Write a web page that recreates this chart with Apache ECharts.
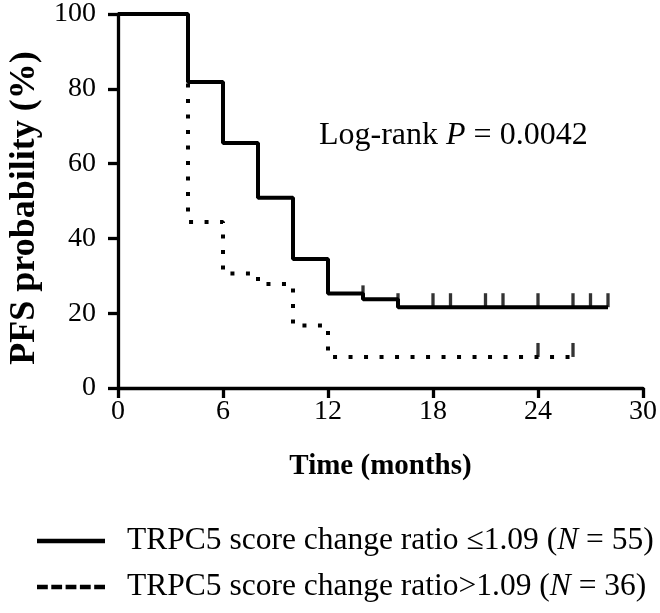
<!DOCTYPE html>
<html>
<head>
<meta charset="utf-8">
<script src="https://cdn.jsdelivr.net/npm/echarts@6/dist/echarts.min.js"></script>
<style>
html,body{margin:0;padding:0;background:#fff;}
#chart{width:660px;height:613px;}
</style>
</head>
<body>
<div id="chart"></div>
<script>
// ---- data ----
const xTicks = [0, 6, 12, 18, 24, 30];
const yTicks = [0, 20, 40, 60, 80, 100];
const lowTimes = [0, 4, 6, 8, 10, 12, 14, 16, 28];
const lowSurv = [100, 81.8, 65.5, 50.9, 34.5, 25.3, 23.7, 21.6, 21.6];
const lowCensorTimes = [14, 16, 18, 19, 21, 22, 24, 26, 27, 28];
const lowCensorSurv = [23.7, 21.6, 21.6, 21.6, 21.6, 21.6, 21.6, 21.6, 21.6, 21.6];
const highTimes = [0, 4, 6, 8, 10, 12, 26];
const highSurv = [100, 44.4, 30.6, 27.8, 16.7, 8.3, 8.3];
const highCensorTimes = [24, 26];
const highCensorSurv = [8.3, 8.3];
const seriesNames = ['TRPC5 score change ratio \u22641.09', 'TRPC5 score change ratio\u003e1.09'];
const seriesN = [55, 36];
const statText = ['Log-rank ', 'P', ' = 0.0042'];
const xTitle = 'Time (months)';
const yTitle = 'PFS probability (%)';

const FONT = '"Liberation Serif", "Times New Roman", serif';
const zip = (a, b) => a.map((v, i) => [v, b[i]]);

const chart = echarts.init(document.getElementById('chart'), null, {renderer: 'canvas'});

function legendText(i) {
  return '{a|' + seriesNames[i] + ' (}{i|N}{a| = ' + seriesN[i] + ')}';
}
const legendRich = {
  a: {fontFamily: FONT, fontSize: 31.5, fill: '#000'},
  i: {fontFamily: FONT, fontSize: 31.5, fill: '#000', fontStyle: 'italic'}
};

const option = {
  animation: false,
  backgroundColor: '#fff',
  grid: {left: 118, right: 14, top: 11, bottom: 225, containLabel: false},
  xAxis: {
    type: 'value', min: xTicks[0], max: xTicks[xTicks.length - 1], interval: 6,
    name: xTitle, nameLocation: 'middle', nameGap: 64,
    nameTextStyle: {fontFamily: FONT, fontWeight: 'bold', fontSize: 29, color: '#000'},
    axisLine: {lineStyle: {color: '#000', width: 3.3}},
    axisTick: {show: true, inside: false, length: 10, lineStyle: {color: '#000', width: 3.3}},
    axisLabel: {fontFamily: FONT, fontSize: 28, color: '#000', margin: 10},
    splitLine: {show: false}
  },
  yAxis: {
    type: 'value', min: yTicks[0], max: yTicks[yTicks.length - 1], interval: 20,
    axisLine: {lineStyle: {color: '#000', width: 3.3}},
    axisTick: {show: true, inside: false, length: 10, lineStyle: {color: '#000', width: 3.3}},
    axisLabel: {fontFamily: FONT, fontSize: 28, color: '#000', margin: 22},
    splitLine: {show: false}
  },
  graphic: [
    {
      type: 'text', x: 25, y: 208, rotation: Math.PI / 2,
      style: {text: yTitle, fontFamily: FONT, fontWeight: 'bold', fontSize: 36, fill: '#000', align: 'center', verticalAlign: 'middle'}
    },
    {
      type: 'text', x: 319, y: 136,
      style: {
        text: '{a|' + statText[0] + '}{i|' + statText[1] + '}{a|' + statText[2] + '}',
        verticalAlign: 'middle',
        rich: {
          a: {fontFamily: FONT, fontSize: 32, fill: '#000'},
          i: {fontFamily: FONT, fontSize: 32, fill: '#000', fontStyle: 'italic'}
        }
      }
    },
    {type: 'line', shape: {x1: 37, y1: 541, x2: 105, y2: 541}, style: {stroke: '#000', lineWidth: 4.5}},
    {type: 'line', shape: {x1: 37, y1: 587, x2: 105, y2: 587}, style: {stroke: '#000', lineWidth: 4.5, lineDash: [10.8, 3.5]}},
    {type: 'text', x: 127, y: 541, style: {text: legendText(0), rich: legendRich, verticalAlign: 'middle'}},
    {type: 'text', x: 127, y: 587, style: {text: legendText(1), rich: legendRich, verticalAlign: 'middle'}}
  ],
  series: [
    {
      name: seriesNames[0], type: 'line', step: 'end', symbol: 'none',
      data: zip(lowTimes, lowSurv),
      lineStyle: {color: '#000', width: 4, type: 'solid'}
    },
    {
      name: seriesNames[1], type: 'line', step: 'end', symbol: 'none',
      data: zip(highTimes, highSurv),
      lineStyle: {color: '#000', width: 4, type: [4, 11.5], cap: 'butt'}
    },
    {
      type: 'scatter', symbol: 'rect', symbolSize: [3.3, 14], symbolOffset: [0, -7],
      data: zip(lowCensorTimes, lowCensorSurv), itemStyle: {color: '#000'}, silent: true
    },
    {
      type: 'scatter', symbol: 'rect', symbolSize: [3.3, 14], symbolOffset: [0, -7],
      data: zip(highCensorTimes, highCensorSurv), itemStyle: {color: '#000'}, silent: true
    }
  ]
};
chart.setOption(option);
</script>
</body>
</html>
